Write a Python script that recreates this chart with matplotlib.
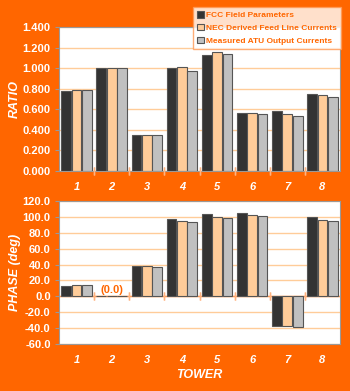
import numpy as np
import matplotlib.pyplot as plt

towers = ['1', '2', '3', '4', '5', '6', '7', '8']
series = ['FCC Field Parameters', 'NEC Derived Feed Line Currents', 'Measured ATU Output Currents']
colors = ['#333333', '#FFCC99', '#C0C0C0']

ratio_fcc = [0.778, 1.000, 0.348, 1.000, 1.126, 0.567, 0.584, 0.745]
ratio_nec = [0.791, 1.000, 0.354, 1.012, 1.161, 0.567, 0.552, 0.739]
ratio_atu = [0.791, 1.000, 0.354, 0.973, 1.138, 0.551, 0.532, 0.719]

phase_fcc = [13.5, 0.0, 38.5, 97.5, 103.3, 105.0, -37.5, 99.6]
phase_nec = [14.3, 0.0, 38.1, 95.0, 100.4, 102.0, -37.5, 96.7]
phase_atu = [13.9, 0.0, 37.3, 93.3, 98.3, 101.3, -38.6, 95.0]

orange = '#FF6600'
plt.rcParams['font.family'] = ['Liberation Sans', 'DejaVu Sans']

fig = plt.figure(figsize=(3.5, 3.91), dpi=100, facecolor=orange)
ax1 = fig.add_axes([59/350, 1 - 171/391, 281/350, 144/391])
ax2 = fig.add_axes([59/350, 1 - 344/391, 281/350, 143/391])

x = np.arange(len(towers))
w = 0.28
step = 0.295


def style(ax, ylim, yticks, fmt):
    ax.set_facecolor('white')
    ax.set_xlim(-0.5, len(towers) - 0.5)
    ax.set_ylim(*ylim)
    ax.set_yticks(yticks)
    ax.set_yticklabels([fmt.format(v) for v in yticks], color='white',
                       fontsize=8, fontweight='bold')
    ax.set_xticks(x)
    ax.set_xticklabels(towers, color='white', fontsize=8, fontweight='bold',
                       style='italic')
    ax.tick_params(axis='x', length=0, pad=8)
    ax.tick_params(axis='y', length=3, color='#999999', pad=3)
    ax.yaxis.grid(True, color='#FFCC99', linewidth=1)
    ax.set_axisbelow(True)
    for s in ax.spines.values():
        s.set_color('#999999')
    # category separator ticks
    for b in np.arange(0.5, len(towers) - 0.5, 1):
        ax.plot([b, b], [0, 0], marker='|', markersize=6, color='#FFB380',
                clip_on=False, zorder=3)


for i, (vals, c) in enumerate(zip([ratio_fcc, ratio_nec, ratio_atu], colors)):
    ax1.bar(x + (i - 1) * step, vals, w, color=c, edgecolor='#555555',
            linewidth=0.8, label=series[i], zorder=2)
style(ax1, (0, 1.4), np.arange(0, 1.41, 0.2), '{:.3f}')
ax1.set_ylabel('RATIO', color='white', fontsize=9, fontweight='bold',
               style='italic', labelpad=1)

for i, (vals, c) in enumerate(zip([phase_fcc, phase_nec, phase_atu], colors)):
    ax2.bar(x + (i - 1) * step, vals, w, color=c, edgecolor='#555555',
            linewidth=0.8, zorder=2)
style(ax2, (-60, 120), np.arange(-60, 121, 20), '{:.1f}')
ax2.axhline(0, color='#FF9955', linewidth=1, zorder=1.5)
ax2.set_ylabel('PHASE (deg)', color='white', fontsize=9, fontweight='bold',
               style='italic', labelpad=1)
ax2.set_xlabel('TOWER', color='white', fontsize=9, fontweight='bold',
               style='italic', labelpad=3)
ax2.text(1, 2, '(0.0)', color=orange, fontsize=8, fontweight='bold',
         ha='center', va='bottom')

leg = fig.legend(loc='upper left', bbox_to_anchor=(193/350, 1 - 7/391),
                 prop={'size': 6, 'weight': 'bold'},
                 frameon=True, fancybox=False, handlelength=0.8,
                 handleheight=0.8, handletextpad=0.3, borderpad=0.5,
                 labelspacing=0.55, borderaxespad=0)
leg.get_frame().set_edgecolor('#FF9955')
leg.get_frame().set_linewidth(1)
for t in leg.get_texts():
    t.set_color(orange)

fig.savefig('out.png', dpi=100, facecolor=orange)
